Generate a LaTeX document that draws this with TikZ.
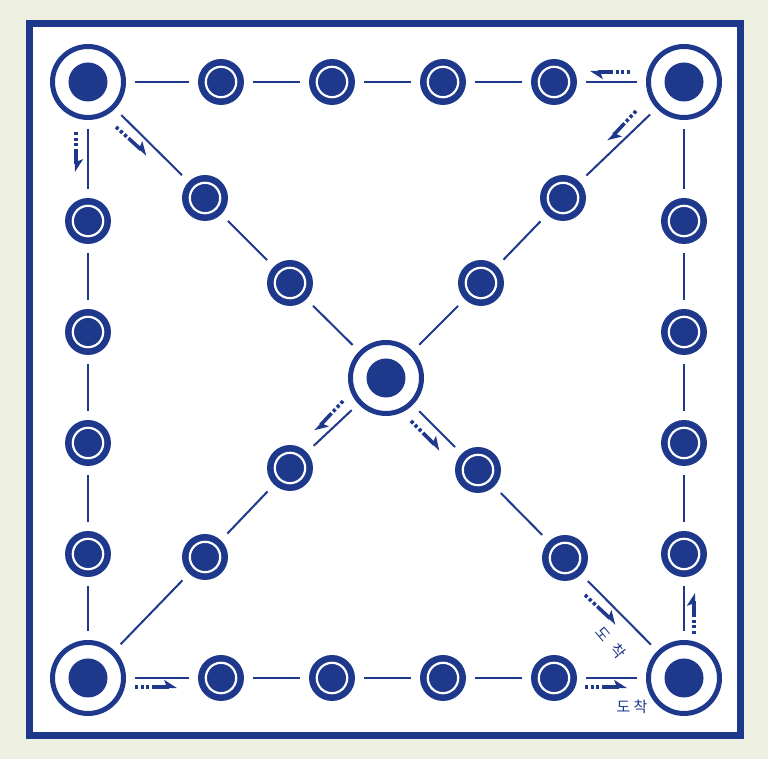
\documentclass[tikz,border=0pt]{standalone}
\usepackage{fontspec}
\newfontfamily\kfont{Noto Sans CJK KR}
\usetikzlibrary{arrows.meta}
\definecolor{yutblue}{RGB}{30,56,140}
\definecolor{yutpaper}{RGB}{238,240,226}
\tikzset{
  bigspot/.style={circle, draw=yutblue, line width=2.5pt, fill=white,
    minimum size=35.5pt, inner sep=0pt,
    path picture={\fill[yutblue] (path picture bounding box.center) circle (9.75pt);}},
  spot/.style={circle, fill=yutblue, minimum size=23pt, inner sep=0pt,
    path picture={\draw[white, line width=1.1pt] (path picture bounding box.center) circle (7.6pt);}},
  track/.style={yutblue, line width=1pt, shorten <=4.5pt, shorten >=4.5pt},
  runarrow/.style={yutblue, line width=1.8pt,
    dash pattern=on 1.6pt off 1.2pt on 1.6pt off 1.2pt on 1.6pt off 1.2pt on 40pt off 40pt,
    -{Stealth[harpoon, length=5.5pt, width=7pt, inset=1.2pt]}},
  goaltext/.style={font=\kfont\fontsize{7.5}{9}\selectfont, text=yutblue, inner sep=0pt},
}
\begin{document}
\begin{tikzpicture}[x=0.5pt, y=-0.5pt]
% Paper and board
\fill[yutpaper] (0,0) rectangle (768,759);
\draw[yutblue, line width=3.2pt, fill=white] (29.5,23.5) rectangle (740.5,735.5);
% Corner and centre spots
\node[bigspot] (tl) at (88,82) {};
\node[bigspot] (tr) at (684,82) {};
\node[bigspot] (bl) at (88,678) {};
\node[bigspot] (br) at (684,678) {};
\node[bigspot] (ct) at (386,378) {};
% Side spots
\foreach \p [count=\i] in {221,332,443,554} {
  \node[spot] (t\i) at (\p,82) {};
  \node[spot] (b\i) at (\p,678) {};
  \node[spot] (l\i) at (88,\p) {};
  \node[spot] (r\i) at (684,\p) {};
}
% Diagonal spots
\node[spot] (d1) at (205,198) {};
\node[spot] (d2) at (290,283) {};
\node[spot] (d3) at (478,470) {};
\node[spot] (d4) at (565,558) {};
\node[spot] (e1) at (563,198) {};
\node[spot] (e2) at (481,283) {};
\node[spot] (e3) at (290,468) {};
\node[spot] (e4) at (205,557) {};
% Tracks, one piece between each pair of spots
\foreach \a/\b in {tl/t1,t1/t2,t2/t3,t3/t4,t4/tr,
                   bl/b1,b1/b2,b2/b3,b3/b4,b4/br,
                   tl/l1,l1/l2,l2/l3,l3/l4,l4/bl,
                   tr/r1,r1/r2,r2/r3,r3/r4,r4/br,
                   tl/d1,d1/d2,d2/ct,ct/d3,d3/d4,d4/br,
                   tr/e1,e1/e2,e2/ct,ct/e3,e3/e4,e4/bl}
  \draw[track] (\a) -- (\b);
% Direction marks
\draw[runarrow, swap] (76,132) -- (76,172);
\draw[runarrow] (116,127) -- (147,155);
\draw[runarrow, swap] (630,72) -- (590,72);
\draw[runarrow] (636,111) -- (608,141);
\draw[runarrow] (343,401) -- (315,431);
\draw[runarrow, swap] (411,421) -- (440,450);
\draw[runarrow, swap] (585,595) -- (616,624);
\draw[runarrow] (694,634) -- (694,593);
\draw[runarrow] (135,687) -- (177,687);
\draw[runarrow] (585,687) -- (627,687);
% Finish labels
\node[goaltext, rotate=-50] (goal1a) at (603,634) {도};
\node[goaltext, rotate=-50] (goal1b) at (618,651) {착};
\node[goaltext] (goal2) at (632,707) {도 착};
\end{tikzpicture}
\end{document}
